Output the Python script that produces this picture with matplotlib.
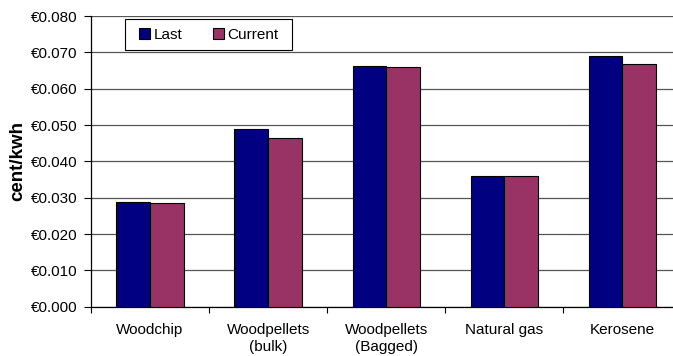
import matplotlib
matplotlib.use("Agg")
import matplotlib.pyplot as plt
import numpy as np
from matplotlib.patches import Rectangle
from matplotlib.ticker import FuncFormatter, MultipleLocator

plt.rcParams['font.family'] = ['Liberation Sans', 'DejaVu Sans']

categories = ["Woodchip", "Woodpellets\n(bulk)", "Woodpellets\n(Bagged)", "Natural gas", "Kerosene"]
last = [0.0289, 0.0488, 0.0663, 0.0360, 0.0689]
current = [0.0285, 0.0463, 0.0660, 0.0360, 0.0668]
series_names = ["Last", "Current"]

W, H = 673, 356
fig = plt.figure(figsize=(W / 100, H / 100), dpi=100)
# plot area runs slightly past the right edge of the figure
left, right, top, bottom = 91, 681.5, 16, 306.7
aw, ah = right - left, bottom - top
ax = fig.add_axes([left / W, 1 - bottom / H, aw / W, ah / H])

x = np.arange(len(categories))
bw = 0.285
ax.bar(x - bw / 2, last, bw, color="#000080", edgecolor="black", linewidth=0.8,
       label=series_names[0], zorder=3)
ax.bar(x + bw / 2, current, bw, color="#993366", edgecolor="black", linewidth=0.8,
       label=series_names[1], zorder=3)

ax.set_xlim(-0.5, len(categories) - 0.5)
ax.set_ylim(0, 0.080)
ax.yaxis.set_major_locator(MultipleLocator(0.010))
ax.yaxis.set_major_formatter(FuncFormatter(lambda v, p: "\u20ac{:.3f}".format(v)))
ax.grid(axis="y", color="#555555", linewidth=0.9, zorder=0)

ax.set_xticks(x)
ax.set_xticklabels(categories, fontsize=11, linespacing=1.25)
ax.set_xticks(np.arange(len(categories) + 1) - 0.5, minor=True)
ax.tick_params(axis="x", which="major", length=0, pad=12)
ax.tick_params(axis="x", which="minor", length=4, width=0.8, direction="out")
ax.tick_params(axis="y", length=5, width=0.8, labelsize=11, pad=5)

for s in ["top", "right"]:
    ax.spines[s].set_visible(False)
ax.spines["left"].set_linewidth(0.9)
ax.spines["bottom"].set_linewidth(0.9)

ax.set_ylabel("cent/kwh", fontsize=13.5, fontweight="bold", labelpad=3)

# legend box drawn separately so its padding can be wider than tall
bx0, bx1, by0, by1 = 125.3, 292, 19.3, 50.3
ax.add_patch(Rectangle(((bx0 - left) / aw, (bottom - by1) / ah), (bx1 - bx0) / aw, (by1 - by0) / ah,
                       transform=ax.transAxes, facecolor="white",
                       edgecolor="black", linewidth=0.8, zorder=4, clip_on=False))
leg = ax.legend(loc="center",
                bbox_to_anchor=(((bx0 + bx1) / 2 - left) / aw, (bottom - (by0 + by1) / 2) / ah),
                ncol=2, fontsize=11, frameon=False,
                handlelength=0.75, handleheight=0.75, handletextpad=0.2, columnspacing=2.0,
                borderpad=0, borderaxespad=0)
leg.set_zorder(5)

fig.savefig("out.png", dpi=100)
